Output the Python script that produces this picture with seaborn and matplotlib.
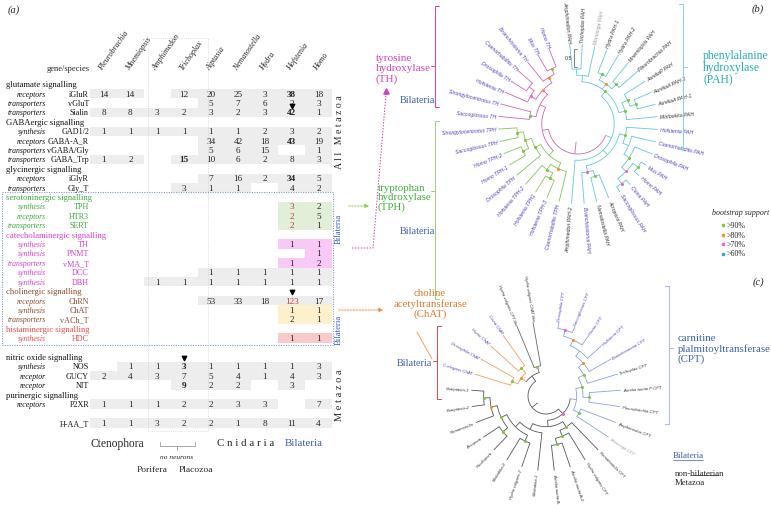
import numpy as np
import pandas as pd
import matplotlib
matplotlib.use("Agg")
import matplotlib.pyplot as plt
from matplotlib import transforms
from matplotlib.colors import ListedColormap
import seaborn as sns

sns.set_style("white")
plt.rcParams["font.family"] = ["Liberation Serif", "DejaVu Serif"]

W, H = 771, 506

# ---------------- table data (panel a) ----------------
species = ["Pleurobrachia", "Mnemiopsis", "Amphimedon", "Trichoplax", "Aiptasia",
           "Nematostella", "Hydra", "Hofstenia", "Homo"]

# "head" marks a section title row, "" a blank row
row_genes = ["glutamate signalling", "iGluR", "vGluT", "Sialin",
             "GABAergic signalling", "GAD1/2", "GABA-A_R", "vGABA/Gly", "GABA_Trp",
             "glycinergic signalling", "iGlyR", "Gly_T",
             "serotoninergic signalling", "TPH", "HTR3", "SERT",
             "catecholaminergic signalling", "TH", "PNMT", "vMA_T", "DCC", "DBH",
             "cholinergic signalling", "ChRN", "ChAT", "vACh_T",
             "histaminergic signalling", "HDC", "",
             "nitric oxide signalling", "NOS", "GUCY", "NIT",
             "purinergic signalling", "P2XR", "", "H-AA_T"]
row_roles = ["head", "receptors", "transporters", "transporters",
             "head", "synthesis", "receptors", "transporters", "transporters",
             "head", "receptors", "transporters",
             "head", "synthesis", "receptors", "transporters",
             "head", "synthesis", "synthesis", "transporters", "synthesis", "synthesis",
             "head", "receptors", "synthesis", "transporters",
             "head", "synthesis", "",
             "head", "synthesis", "receptor", "receptor",
             "head", "receptors", "", ""]
# counts per species; "-" = none, "*" = bold, "!" = red
row_counts = ["", "14 14 - 12 20 25 3 38* 18", "- - - - 5 7 6 2 3", "8 8 3 2 3 2 3 42* 1",
              "", "1 1 1 1 1 1 2 3 2", "- - - - 34 42 18 43* 19", "- - - - 5 6 15 - 1",
              "1 2 - 15* 10 6 2 8 3",
              "", "- - - - 7 16 2 34* 5", "- - - 3 1 1 - 4 2",
              "", "- - - - - - - 3! 2", "- - - - - - - 2! 5", "- - - - - - - 2! 1",
              "", "- - - - - - - 1 1", "- - - - - - - - 1", "- - - - - - - 1 2",
              "- - - - 1 1 1 1 1", "- - 1 1 1 1 1 1 1",
              "", "- - - - 53 33 18 123! 17", "- - - - - - - 1 1", "- - - - - - - 2 1",
              "", "- - - - - - - 1 1", "",
              "", "- 1 1 3* 1 1 1 1 3", "2 4 3 7 5 4 1 4 3", "- - - 9* 2 2 - 3 -",
              "", "1 1 1 2 2 3 3 - 7", "", "1 1 3 2 2 1 8 11 4"]
row_tints = ["gray"] * 13 + ["green"] * 3 + ["gray"] + ["pink"] * 3 + ["gray"] * 4 \
    + ["peach"] * 2 + ["gray", "salmon"] + ["gray"] * 9
section_colors = {"serotoninergic": "#3aa83a", "catecholaminergic": "#d63fcf",
                  "cholinergic": "#8a4a2c", "histaminergic": "#f04a4a"}

tint_names = ["white", "gray", "green", "pink", "peach", "salmon"]
tint_cmap = ListedColormap(["#ffffff", "#ededed", "#e1eed8", "#f8c8f6", "#fdf0cb", "#f8caca"])

# ---------------- tree data (panels b, c) ----------------
PAH = ("((((Amphimedon PAH,Trichoplax PAH),Monosiga PAH),((Hydra PAH-1,Hydra PAH-2)90,"
       "(Mnemiopsis PAH,Pleurobrachia PAH)90)80,((AureliaP PAH,(AureliaA PAH-2,AureliaA PAH-1)90)90,"
       "Morbakka PAH)90)90,((Hofstenia PAH,(Caenorhabditis PAH,(Drosophila PAH,((Mus PAH,Homo PAH)90,"
       "(Ciona PAH,Saccoglossus PAH)70)70)90))90,((Acropora PAH,Nematostella PAH)90,"
       "Branchiostoma PAH)70),Amphimedon PAH-2)")
TPH = ("((Caenorhabditis TPH,((Hofstenia TPH-3,Hofstenia TPH1)90,Hofstenia TPH-2)90)80,"
       "(Drosophila TPH,((Homo TPH-1,Homo TPH-2)90,(Saccoglossus TPH,Strongylocentrotus TPH)90)90)90)")
TH = ("((Saccoglossus TH,Strongylocentrotus TH)90,((Hofstenia TH,(Drosophila TH,Caenorhabditis TH))70,"
      "(Branchiostoma TH,(Mus TH,Homo TH)90)80)80)")
CPT = ("(((((((Drosophila CPT,Saccoglossus CPT)70,Homo CPT)80,Hofstenia CPT),Branchiostoma CPT)80,"
       "Trichoplax CPT)90,(Aurelia aurita P CPT,Pleurobrachia CPT)90)90,(Amphimedon CPT,Monosiga CPT)90)")
CPTX = ("((Nematostella CPT,(Hydra vulgaris CPT,(Aurelia aurita A-2,Aurelia aurita A-1)90)90)90,"
        "(Morbakka-1,((Hydra vulgaris-2,Morbakka-2)90,((Pocillopora,Acropora)90,"
        "(Nematostella,(Exaiptasia-2,Exaiptasia-1)90)80)90)))")
CHAT = "((C.elegans ChAT,Drosophila ChAT)90,(Homo ChAT,Ciona ChAT)90)80"
LIKE = "(Hydra vulgaris CPT-like,Hydra vulgaris ChAT-like)90"

bilaterians = ["Homo", "Mus", "Drosophila", "Caenorhabditis", "C.elegans", "Saccoglossus",
               "Strongylocentrotus", "Hofstenia", "Branchiostoma", "Ciona"]
boot_levels = [">90%", ">80%", ">70%", ">60%"]
boot_colors = {90: "#84c441", 80: "#f7931e", 70: "#f060d0", 60: "#3d9be0"}

BLUE = "#3b5eb0"

fig = plt.figure(figsize=(W / 100, H / 100), dpi=100)

ov = fig.add_axes([0, 0, 1, 1], zorder=5)
ov.set_xlim(0, W)
ov.set_ylim(H, 0)
ov.axis("off")
ov.patch.set_alpha(0)

# ---------------- heatmap table ----------------
n = len(row_genes)
codes = np.zeros((n, len(species)))
annot = np.full((n, len(species)), "", dtype=object)
style = {}
for i, (cs, tint) in enumerate(zip(row_counts, row_tints)):
    for j, v in enumerate(cs.split()):
        if v == "-":
            continue
        codes[i, j] = tint_names.index(tint)
        annot[i, j] = v.rstrip("*!")
        style[(i, j)] = v[-1] if v[-1] in "*!" else ""

tab = pd.DataFrame(codes, columns=species)
top, bot, left, right = 80.5, 428.5, 90, 332
ax = fig.add_axes([left / W, 1 - bot / H, (right - left) / W, (bot - top) / H])
sns.heatmap(tab, ax=ax, cmap=tint_cmap, vmin=-0.5, vmax=5.5, cbar=False,
            annot=annot, fmt="", annot_kws={"fontsize": 6.6},
            xticklabels=False, yticklabels=False)
ax.set_xlabel("")
ax.set_ylabel("")
for t in ax.texts:
    x, y = t.get_position()
    s = style.get((int(y), int(x)), "")
    t.set_color("#c43a2a" if s == "!" else "#222222")
    if s == "*":
        t.set_fontweight("bold")

bt = transforms.blended_transform_factory(ov.transData, ax.transData)
cur = "#111111"
for i, (g, r) in enumerate(zip(row_genes, row_roles)):
    if r == "head":
        cur = section_colors.get(g.split()[0], "#111111")
        ov.text(6, i + 0.5, g, transform=bt, ha="left", va="center", fontsize=6.2, color=cur)
    elif g:
        ov.text(89, i + 0.5, g, transform=bt, ha="right", va="center", fontsize=5.9, color=cur)
        if r:
            ov.text(46, i + 0.5, r, transform=bt, ha="right", va="center", fontsize=5.6,
                    style="italic", color=cur)

for j, sp in enumerate(species):
    ax.text(j + 0.4, -1.15, sp, rotation=55, rotation_mode="anchor", ha="left",
            va="center", fontsize=5.8, style="italic", color="#222222", clip_on=False)
ov.text(90, 69, "gene/species", ha="right", va="center", fontsize=6.1)

ax.scatter([7.5, 7.5, 3.5], [2.85, 22.6, 29.6], marker="v", s=10, color="black",
           zorder=4, clip_on=False)

# frames
ov.add_patch(plt.Rectangle((2, 11.93), 331, 16.3, transform=bt, fill=False, ec="#7d9ad8",
                           lw=0.8, ls=(0, (1, 1.2))))
ov.add_patch(plt.Rectangle((148, 39), 60, 393, fill=False, ec="#d0d0d0", lw=0.6,
                           ls=(0, (1, 1.5))))
ov.plot([160, 160, 195, 195], [443, 447, 447, 443], color="#999999", lw=0.6)
ov.plot([177, 177], [447, 451], color="#999999", lw=0.6)

ov.text(8, 10, "(a)", fontsize=7.5, style="italic", va="center")
ov.text(117, 444, "Ctenophora", fontsize=8.3, ha="center", va="center")
ov.text(246, 444, "C n i d a r i a", fontsize=7.8, ha="center", va="center")
ov.text(304, 444, "Bilateria", fontsize=7.8, ha="center", va="center", color=BLUE)
ov.text(177, 458, "no neurons", fontsize=5.3, ha="center", va="center", style="italic")
ov.text(152, 470, "Porifera", fontsize=6.8, ha="center", va="center")
ov.text(196, 470, "Placozoa", fontsize=6.8, ha="center", va="center")
ov.text(340, 132, "A l l   M e t a z o a", rotation=90, fontsize=7, ha="center", va="center")
ov.text(340, 395, "M e t a z o a", rotation=90, fontsize=7.5, ha="center", va="center")
ov.text(339, 229, "Bilateria", rotation=90, fontsize=6.3, ha="center", va="center", color=BLUE)
ov.text(339, 330, "Bilateria", rotation=90, fontsize=6.3, ha="center", va="center", color=BLUE)


# ---------------- trees ----------------
def parse_newick(s):
    pos = 0

    def label():
        nonlocal pos
        st = pos
        while pos < len(s) and s[pos] not in ",()":
            pos += 1
        return s[st:pos].strip()

    def node():
        nonlocal pos
        if s[pos] == "(":
            pos += 1
            kids = [node()]
            while s[pos] == ",":
                pos += 1
                kids.append(node())
            pos += 1
            lab = label()
            return {"kids": kids, "sup": int(lab) if lab else None}
        return {"name": label()}
    return node()


def paint(nd, color):
    nd["color"] = color
    for k in nd.get("kids", []):
        paint(k, color)
    return nd


def tree_axes(l, t, w, h, cx, cy):
    a = fig.add_axes([l / W, 1 - (t + h) / H, w / W, h / H], zorder=3)
    a.set_xlim(l - cx, l + w - cx)
    a.set_ylim(cy - (t + h), cy - t)
    a.axis("off")
    return a


def draw_tree(a, root, a0, span, r0, r1, fs):
    leaves = []

    def walk(nd, d):
        nd["depth"] = d
        if "name" in nd:
            leaves.append(nd)
            return d
        return max(walk(k, d + 1) for k in nd["kids"])
    dmax = walk(root, 0)
    step = span / (len(leaves) - 1)
    for i, lf in enumerate(leaves):
        lf["ang"] = a0 - i * step

    def angles(nd):
        if "name" in nd:
            return nd["ang"]
        angs = [angles(k) for k in nd["kids"]]
        nd["lo"], nd["hi"] = angs[0], angs[-1]
        nd["ang"] = (angs[0] + angs[-1]) / 2
        return nd["ang"]
    angles(root)

    def draw(nd, pr):
        th = np.radians(nd["ang"])
        r = r1 if "name" in nd else r0 + nd["depth"] * (r1 - r0) / dmax
        c = nd["color"]
        a.plot([pr * np.cos(th), r * np.cos(th)], [pr * np.sin(th), r * np.sin(th)],
               color=c, lw=0.6, solid_capstyle="butt")
        if "name" in nd:
            nm = nd["name"]
            lc = "#9a9a9a" if nm.startswith("Monosiga") else (
                "#4a3fb8" if nm.split()[0].split("-")[0] in bilaterians else "#333333")
            ang = (nd["ang"] + 180) % 360 - 180
            flip = abs(ang) > 90
            a.text((r + 2) * np.cos(th), (r + 2) * np.sin(th), nm,
                   rotation=ang + 180 if flip else ang, rotation_mode="anchor",
                   ha="right" if flip else "left", va="center", fontsize=fs,
                   style="italic", color=lc, family=["Liberation Sans", "DejaVu Sans"])
            return
        tt = np.radians(np.linspace(nd["lo"], nd["hi"], 60))
        a.plot(r * np.cos(tt), r * np.sin(tt), color=c, lw=0.6)
        for k in nd["kids"]:
            draw(k, r)
        if nd["sup"]:
            a.scatter([r * np.cos(th)], [r * np.sin(th)], s=5, color=boot_colors[nd["sup"]],
                      zorder=4, lw=0)
    draw(root, r0 * 0.6)


tree_b = {"kids": [paint(parse_newick(PAH), "#63c7d6"),
                   {"kids": [paint(parse_newick(TPH), "#86c45a"),
                             paint(parse_newick(TH), "#c966b9")], "sup": None,
                    "color": "#c966b9"}], "sup": None, "color": "#c966b9"}
axb = tree_axes(440, 0, 330, 305, 578, 125)
draw_tree(axb, tree_b, 96, 345, 30, 80, 3.7)
axb.plot([-1, -4, -4, -1], [75, 75, 57, 57], color="#555555", lw=0.5)
axb.text(-6, 66, "0.5", fontsize=3.8, ha="right", va="center", color="#333333",
         family=["Liberation Sans", "DejaVu Sans"])

tree_c = {"kids": [{"kids": [paint(parse_newick(CPT), "#88a3de"),
                             paint(parse_newick(CPTX), "#555555")], "sup": 70,
                    "color": "#555555"},
                   {"kids": [paint(parse_newick(CHAT), "#f59c5e"),
                             paint(parse_newick(LIKE), "#666666")], "sup": None,
                    "color": "#555555"}], "sup": None, "color": "#555555"}
axc = tree_axes(420, 280, 250, 226, 546, 397)
draw_tree(axc, tree_c, 80, 340, 18, 75, 3.1)

# ---------------- right panel annotations ----------------
TH_C, TPH_C, PAH_C, CHAT_C = "#d63fb8", "#3fae3a", "#25aeb0", "#e0782c"
ov.text(376, 69, "tyrosine\nhydroxylase\n(TH)", color=TH_C, fontsize=8.1, va="center",
        linespacing=1.1)
ov.text(400, 100, "Bilateria", color=BLUE, fontsize=7.3, va="center")
ov.plot([439, 435, 435, 439], [7, 7, 108, 108], color=TH_C, lw=0.7)
ov.plot([431, 435], [67, 67], color=TH_C, lw=0.7)
ov.plot([352, 373, 386], [249, 249, 95], color=TH_C, lw=0.7, ls=(0, (1.5, 1.5)))
ov.scatter([386], [92], marker="^", s=14, color=TH_C)

ov.text(378, 198, "tryptophan\nhydroxylase\n(TPH)", color=TPH_C, fontsize=7.8, va="center",
        linespacing=1.0)
ov.text(400, 231, "Bilateria", color=BLUE, fontsize=7.3, va="center")
ov.plot([439, 435, 435, 439], [122, 122, 300, 300], color="#9ad07a", lw=0.7)
ov.plot([431, 435], [192, 192], color="#9ad07a", lw=0.7)
ov.annotate("", xy=(372, 207), xytext=(346, 207),
            arrowprops=dict(arrowstyle="-|>", color="#8cd050", lw=0.7, ls=(0, (1.5, 1.5)),
                            mutation_scale=6))

ov.text(703, 68, "phenylalanine\nhydroxylase\n(PAH)", color=PAH_C, fontsize=8.4, va="center",
        linespacing=1.05)
ov.plot([679, 683, 683, 679], [5, 5, 150, 150], color="#7fd3de", lw=0.7)
ov.plot([683, 687], [68, 68], color="#7fd3de", lw=0.7)
ov.text(752, 9, "(b)", fontsize=7.5, style="italic", va="center")

ov.text(712, 213, "bootstrap support", fontsize=5.7, style="italic", ha="left", va="center")
for k, (lab, sup) in enumerate(zip(boot_levels, [90, 80, 70, 60])):
    ov.scatter([723], [226 + 9.5 * k], s=7, color=boot_colors[sup], lw=0)
    ov.text(727, 226 + 9.5 * k, lab, fontsize=5.8, va="center")
ov.text(753, 282, "(c)", fontsize=7.5, style="italic", va="center")

ov.text(430, 304, "choline\nacetyltransferase\n(ChAT)", color=CHAT_C, fontsize=7.8,
        va="center", ha="center", linespacing=1.05)
ov.annotate("", xy=(386, 311), xytext=(336, 311),
            arrowprops=dict(arrowstyle="-|>", color="#f08a40", lw=0.7, ls=(0, (1.5, 1.5)),
                            mutation_scale=6))
ov.plot([417, 432], [333, 360], color="#f59c5e", lw=0.7)
ov.plot([441, 437, 437, 441], [327, 327, 400, 400], color="#e8434a", lw=0.7)
ov.plot([433, 437], [362, 362], color="#e8434a", lw=0.7)
ov.text(397, 363, "Bilateria", color=BLUE, fontsize=7.3, va="center")

ov.text(678, 349, "carnitine\nplalmitoyltransferase\n(CPT)", color=BLUE, fontsize=7.8,
        va="center", linespacing=1.05)
ov.plot([665, 669, 669, 665], [287, 287, 425, 425], color="#a9bde8", lw=0.8)
ov.plot([669, 673], [349, 349], color="#a9bde8", lw=0.8)
ov.text(673, 456, "Bilateria", color=BLUE, fontsize=6.5, va="center")
ov.plot([673, 703], [461, 461], color=BLUE, lw=0.5)
ov.text(675, 470, "non-bilaterian\nMetazoa", fontsize=6.3, va="top", linespacing=1.2)
ov.plot([690, 718], [476, 476], color="black", lw=0.4)

fig.savefig("out.png", dpi=100)
